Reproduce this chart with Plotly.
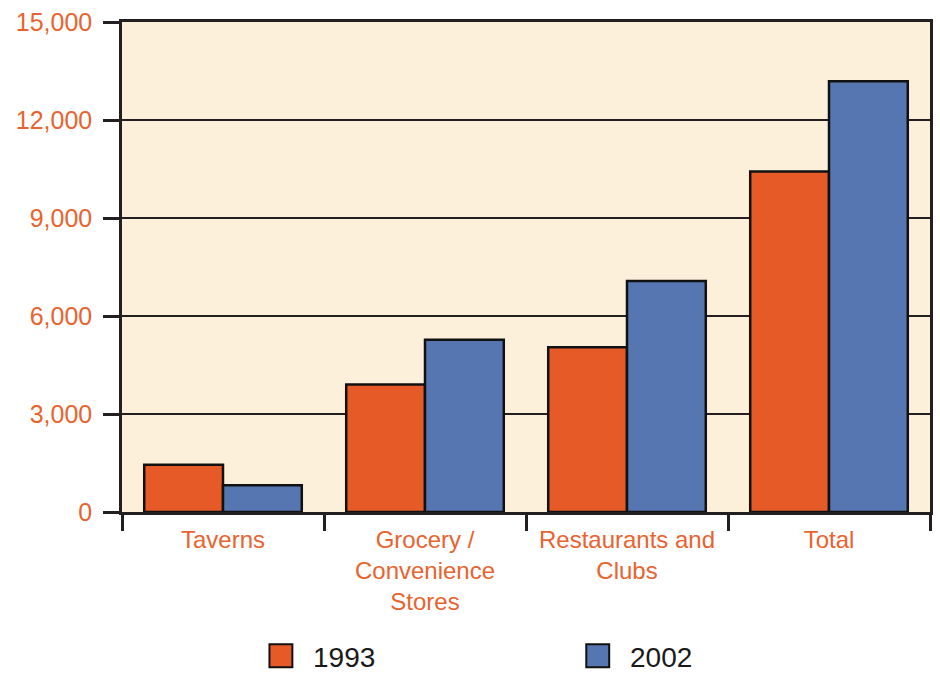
import plotly.graph_objects as go

# Data
categories = ["Taverns", "Grocery /<br>Convenience<br>Stores", "Restaurants and<br>Clubs", "Total"]
values_1993 = [1450, 3900, 5040, 10420]
values_2002 = [820, 5270, 7070, 13190]
series_names = ["1993", "2002"]
y_ticks = [0, 3000, 6000, 9000, 12000, 15000]
y_tick_text = ["0", "3,000", "6,000", "9,000", "12,000", "15,000"]

ORANGE = "#E55A27"
BLUE = "#5676B1"
LABEL = "#E8632F"
LINE = "#231F20"
FONT = "Liberation Sans, Arial, sans-serif"

fig = go.Figure()
for name, vals, col in zip(series_names, [values_1993, values_2002], [ORANGE, BLUE]):
    fig.add_trace(go.Bar(
        x=categories, y=vals, name=name,
        marker=dict(color=col, line=dict(color="#111111", width=2.5)),
        showlegend=False,
    ))

fig.update_layout(
    width=940, height=686,
    margin=dict(l=122, r=7, t=22, b=174),
    paper_bgcolor="white",
    plot_bgcolor="#FCF0DB",
    barmode="group",
    bargap=0.22,
    bargroupgap=0,
    font=dict(family=FONT, color=LABEL),
)

fig.update_yaxes(
    range=[0, 15000],
    tickvals=y_ticks, ticktext=y_tick_text,
    tickfont=dict(size=25, color=LABEL, family=FONT),
    showgrid=True, gridcolor=LINE, gridwidth=2,
    showline=True, linecolor=LINE, linewidth=2.5, mirror=True,
    ticks="outside", ticklen=16, tickwidth=2.5, tickcolor=LINE,
    ticklabelstandoff=6,
    zeroline=False,
)
fig.update_xaxes(
    tickson="boundaries",
    tickfont=dict(size=24, color=LABEL, family=FONT),
    showline=True, linecolor=LINE, linewidth=2.5, mirror=True,
    ticks="outside", ticklen=16, tickwidth=2.5, tickcolor=LINE,
    ticklabelstandoff=4,
    showgrid=False,
)

# Legend swatches and labels below the plot
legend_x = [270, 588]
for name, col, px in zip(series_names, [ORANGE, BLUE], legend_x):
    x0 = (px - 122) / 811
    x1 = (px + 23 - 122) / 811
    y0 = (512.5 - 668) / 490.5
    y1 = (512.5 - 645) / 490.5
    fig.add_shape(type="rect", xref="paper", yref="paper",
                  x0=x0, x1=x1, y0=y0, y1=y1,
                  fillcolor=col, line=dict(color="#111111", width=2))
    fig.add_annotation(xref="paper", yref="paper",
                       x=(px + 42 - 122) / 811, y=(512.5 - 658) / 490.5,
                       xanchor="left", yanchor="middle", showarrow=False,
                       text=name, font=dict(size=28, color="#1A1A1A", family=FONT))

fig.write_html("out.html")
